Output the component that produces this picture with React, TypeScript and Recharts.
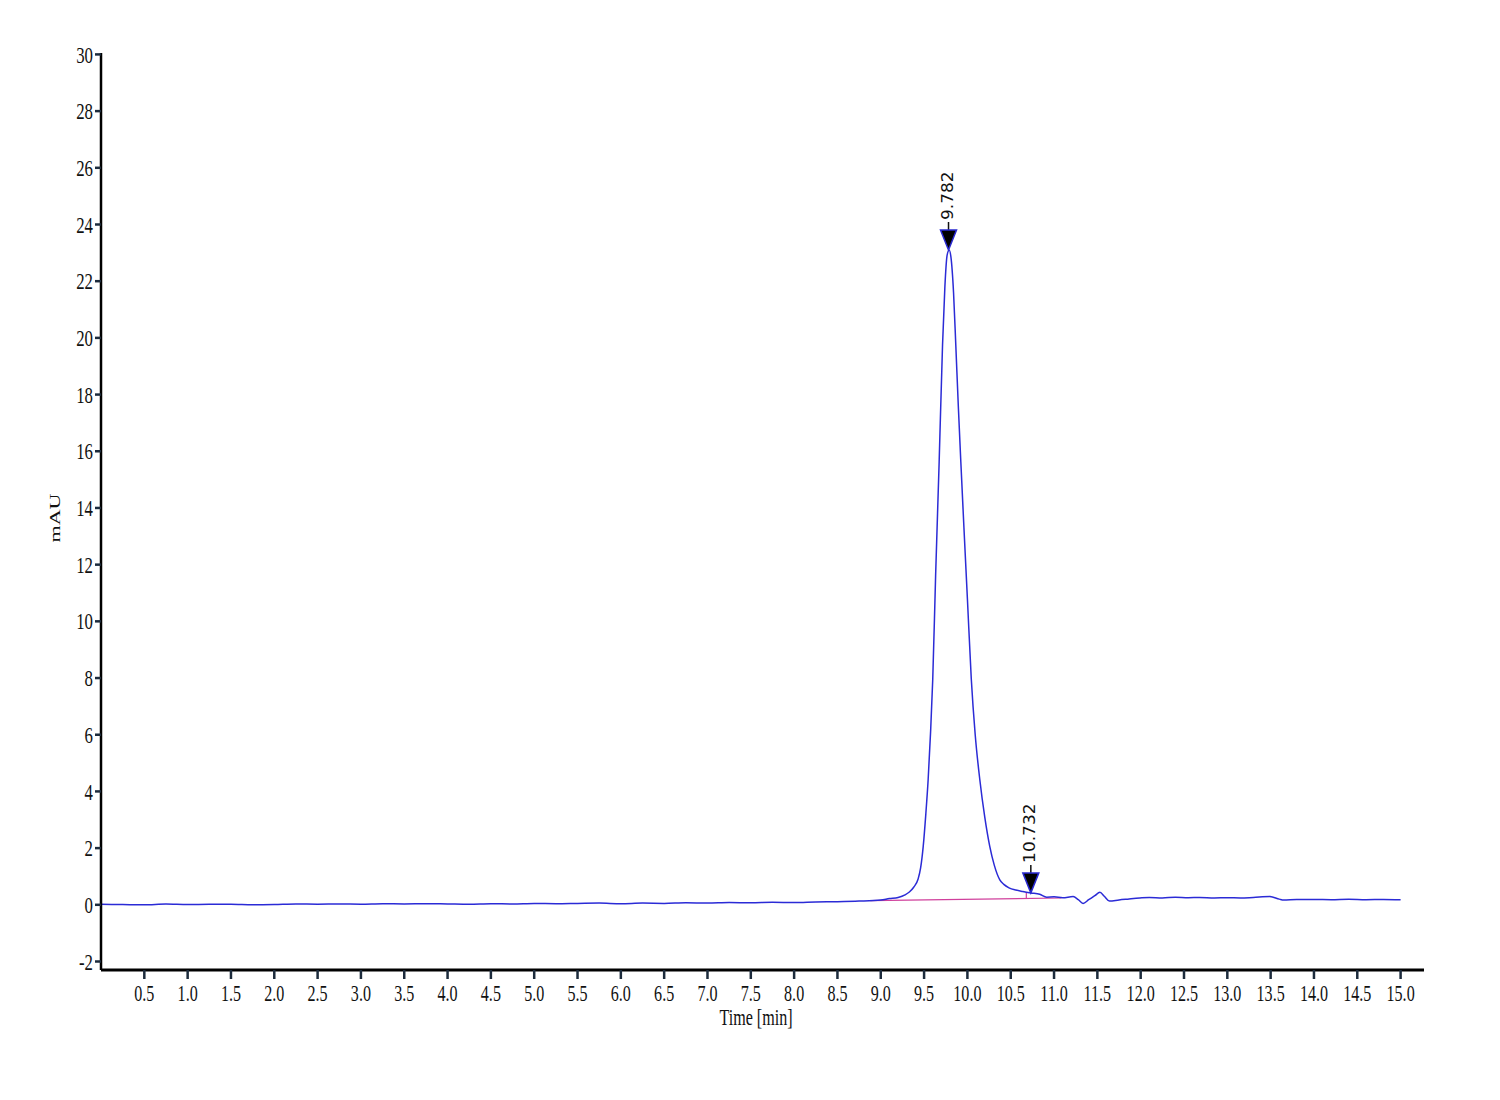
import { LineChart, Line, XAxis, YAxis, ReferenceDot, ReferenceLine } from 'recharts';

// chromatogram trace: time [min] and absorbance [mAU]
const times = [
  0, 0.25, 0.5, 0.75, 1.0, 1.25, 1.5, 1.75, 2.0, 2.25, 2.5, 2.75, 3.0, 3.25, 3.5, 3.75,
  4.0, 4.25, 4.5, 4.75, 5.0, 5.25, 5.5, 5.75, 6.0, 6.25, 6.5, 6.75, 7.0, 7.25, 7.5, 7.75,
  8.0, 8.25, 8.5, 8.75, 9.0, 9.1, 9.2, 9.28, 9.33, 9.38, 9.43, 9.46, 9.49, 9.52, 9.547,
  9.575, 9.6, 9.633, 9.674, 9.713, 9.74, 9.765, 9.789, 9.81, 9.84, 9.866, 9.895, 9.924,
  9.96, 10.0, 10.045, 10.09, 10.143, 10.2, 10.258, 10.31, 10.374, 10.42, 10.48, 10.56, 10.64,
  10.732, 10.835, 10.915, 11.0, 11.1, 11.22, 11.28, 11.335, 11.4, 11.47, 11.53, 11.58,
  11.64, 11.75, 11.85, 11.99, 12.1, 12.25, 12.4, 12.55, 12.68, 12.85, 13.0, 13.15, 13.3,
  13.49, 13.6, 13.65, 13.8, 14.0, 14.2, 14.4, 14.6, 14.8, 15.0,
];
const signal = [
  0.02, 0.01, 0.0, 0.03, 0.01, 0.02, 0.02, 0.0, 0.01, 0.03, 0.02, 0.03, 0.02, 0.04, 0.03, 0.04,
  0.03, 0.02, 0.04, 0.03, 0.05, 0.04, 0.05, 0.06, 0.04, 0.06, 0.05, 0.07, 0.06, 0.08, 0.07, 0.09,
  0.08, 0.1, 0.11, 0.13, 0.17, 0.22, 0.26, 0.35, 0.45, 0.62, 0.9, 1.3, 2.06, 3.2, 4.42,
  6.1, 7.96, 11.6, 15.63, 19.75, 21.8, 22.9, 23.1, 22.85, 21.6, 19.75, 17.6, 15.63,
  13.3, 10.8, 7.96, 6.0, 4.42, 3.1, 2.06, 1.4, 0.88, 0.72, 0.6, 0.52, 0.47,
  0.42, 0.37, 0.27, 0.28, 0.25, 0.29, 0.18, 0.05, 0.18, 0.32, 0.44, 0.3,
  0.13, 0.17, 0.2, 0.24, 0.26, 0.24, 0.27, 0.25, 0.26, 0.24, 0.25, 0.24, 0.26,
  0.29, 0.2, 0.17, 0.19, 0.19, 0.18, 0.2, 0.18, 0.19, 0.18,
];

// integration baseline
const baseTimes = [8.88, 11.085];
const baseValues = [0.15, 0.24];

const peakTimes = [9.782, 10.732];
const peakHeights = [23.1, 0.42];
const peakLabels = ['9.782', '10.732'];

const xTicks = [
  0.5, 1.0, 1.5, 2.0, 2.5, 3.0, 3.5, 4.0, 4.5, 5.0, 5.5, 6.0, 6.5, 7.0, 7.5, 8.0,
  8.5, 9.0, 9.5, 10.0, 10.5, 11.0, 11.5, 12.0, 12.5, 13.0, 13.5, 14.0, 14.5, 15.0,
];
const yTicks = [-2, 0, 2, 4, 6, 8, 10, 12, 14, 16, 18, 20, 22, 24, 26, 28, 30];

const trace = times.map((t, i) => ({ t, v: signal[i] }));
const baseline = baseTimes.map((t, i) => ({ t, v: baseValues[i] }));

const SERIF = '"Liberation Serif", "Times New Roman", serif';
const SQUISH = 0.7;

function YTick({ x, y, payload }: any) {
  return (
    <g transform={`translate(${x},${y}) scale(${SQUISH},1)`}>
      <text textAnchor="end" dominantBaseline="central" fontFamily={SERIF} fontSize={24} fill="#111">
        {payload.value}
      </text>
    </g>
  );
}

function XTick({ x, y, payload }: any) {
  return (
    <g transform={`translate(${x},${y + 20}) scale(${SQUISH},1)`}>
      <text textAnchor="middle" fontFamily={SERIF} fontSize={23} fill="#111">
        {payload.value.toFixed(1)}
      </text>
    </g>
  );
}

function PeakMarker(label: string) {
  return ({ cx, cy }: any) => (
    <g>
      <line x1={cx} y1={cy - 20} x2={cx} y2={cy - 28} stroke="#111" strokeWidth={1.5} />
      <polygon
        points={`${cx - 8},${cy - 20} ${cx + 8},${cy - 20} ${cx},${cy}`}
        fill="#000"
        stroke="#2a2ad0"
        strokeWidth={1.5}
      />
      <g transform={`translate(${cx - 1},${cy - 30}) scale(0.88,1) rotate(-90)`}>
        <text
          textAnchor="start"
          dominantBaseline="central"
          fontFamily='"DejaVu Sans", sans-serif'
          fontSize={17}
          fill="#111"
        >
          {label}
        </text>
      </g>
    </g>
  );
}

export default function App() {
  return (
    <div style={{ position: 'absolute', left: 0, top: 0, width: 1500, height: 1100, background: '#fff' }}>
      <LineChart width={1500} height={1100} margin={{ top: 53, right: 76, bottom: 80, left: 41 }}>
        <XAxis
          dataKey="t"
          type="number"
          domain={[0, 15.27]}
          ticks={xTicks}
          allowDataOverflow
          height={50}
          tickSize={9}
          tickMargin={2}
          axisLine={{ stroke: '#000', strokeWidth: 3 }}
          tickLine={{ stroke: '#1c2b3c', strokeWidth: 2.5 }}
          tick={<XTick />}
          label={{
            content: () => (
              <g transform={`translate(756,1025) scale(${SQUISH},1)`}>
                <text textAnchor="middle" fontFamily={SERIF} fontSize={23} fill="#111">
                  Time [min]
                </text>
              </g>
            ),
          }}
        />
        <YAxis
          type="number"
          domain={[-2.3, 30.05]}
          ticks={yTicks}
          allowDataOverflow
          width={60}
          tickSize={6}
          tickMargin={2}
          axisLine={{ stroke: '#000', strokeWidth: 2.5 }}
          tickLine={{ stroke: '#1c2b3c', strokeWidth: 2.5 }}
          tick={<YTick />}
          label={{
            content: () => (
              <g transform={`translate(55,518) scale(${SQUISH},1) rotate(-90)`}>
                <text textAnchor="middle" dominantBaseline="central" fontFamily={SERIF} fontSize={22} fill="#111">
                  mAU
                </text>
              </g>
            ),
          }}
        />
        <Line
          data={baseline}
          dataKey="v"
          stroke="#d0409c"
          strokeWidth={1.2}
          dot={false}
          isAnimationActive={false}
        />
        <ReferenceLine
          segment={[
            { x: 10.68, y: 0.225 },
            { x: 10.68, y: 0.45 },
          ]}
          stroke="#d0409c"
          strokeWidth={1.2}
        />
        <Line
          data={trace}
          dataKey="v"
          type="monotone"
          stroke="#2b2bd6"
          strokeWidth={1.5}
          dot={false}
          isAnimationActive={false}
        />
        {peakTimes.map((t, i) => (
          <ReferenceDot key={peakLabels[i]} x={t} y={peakHeights[i]} r={1} shape={PeakMarker(peakLabels[i])} />
        ))}
      </LineChart>
    </div>
  );
}
